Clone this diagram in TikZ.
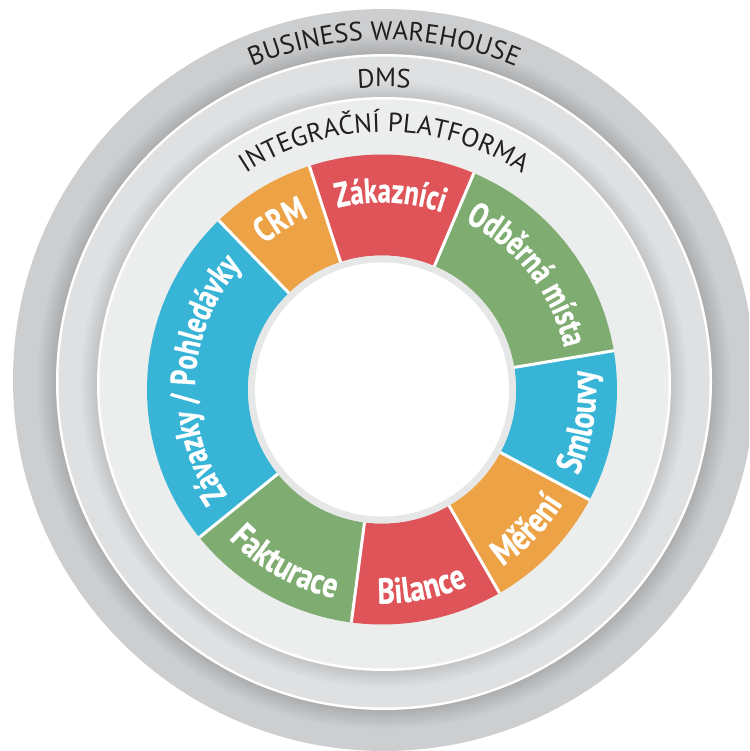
\documentclass[tikz,border=0pt]{standalone}
\usepackage{fontspec}
\setmainfont{PT Sans}
\newfontfamily\condfont[FakeStretch=0.76, BoldFeatures={FakeBold=0.6}]{PT Sans}
\newfontfamily\condfontwide[FakeStretch=0.82, BoldFeatures={FakeBold=0.6}]{PT Sans}
\newcommand\segfont{\condfont\bfseries\fontsize{35}{40}\selectfont}
\newcommand\segfontlow{\condfontwide\bfseries\fontsize{36}{41}\selectfont}
\newcommand\ringfont{\fontsize{26.5}{31}\selectfont}
\usetikzlibrary{decorations.text}

\definecolor{bwgray}{HTML}{CDCED0}
\definecolor{dmsgray}{HTML}{DFE0E1}
\definecolor{intgray}{HTML}{ECEDED}
\definecolor{gapgray}{HTML}{E6E7E7}
\definecolor{segred}{HTML}{DE5459}
\definecolor{segorange}{HTML}{ECA245}
\definecolor{seggreen}{HTML}{7FAD71}
\definecolor{segblue}{HTML}{37B4D6}
\definecolor{ink}{HTML}{231F20}

\begin{document}
\begin{tikzpicture}[x=1pt, y=1pt,
  seglabel/.style={decorate, decoration={text along path, text align=center,
      text color=white, text={|\segfont|#1}}},
  seglabellow/.style={decorate, decoration={text along path, text align=center,
      text color=white, text={|\segfontlow|#1}}},
  ringlabel/.style={decorate, decoration={text along path, text align=center,
      text color=ink, text={|\ringfont|#1}}},
  softshadow/.style={black, opacity=0.009},
  divider/.style={white, line width=3}]
\useasboundingbox (0,0) rectangle (749,-751);
\clip (0,0) rectangle (749,-751);

% centres of the stacked discs
\coordinate (bw) at (384,-380);
\coordinate (dms) at (384,-382);
\coordinate (ip) at (384,-384);
\coordinate (core) at (382,-389.5);

% Business Warehouse ring
\fill[bwgray] (bw) circle (371);
% DMS ring with its soft shadow
\foreach \k in {1,...,16} \fill[softshadow] (dms) circle ({328+1.2*\k});
\fill[white] (dms) circle (328);
\fill[dmsgray] (dms) circle (325.5);
% integration platform disc with its soft shadow
\foreach \k in {1,...,14} \fill[softshadow] (ip) circle ({287+1.2*\k});
\fill[white] (ip) circle (287);
\fill[intgray] (ip) circle (284.5);

% coloured module segments
\foreach \a/\b/\c in {67/108/segred, 108/134/segorange, 134/219/segblue,
    219/262.5/seggreen, 262.5/300/segred, 300/332/segorange,
    332/369.5/segblue, 9.5/67/seggreen}
  \fill[\c] ([shift={(\a:235)}]core) arc[start angle=\a, end angle=\b, radius=235]
    -- ([shift={(\b:134)}]core) arc[start angle=\b, end angle=\a, radius=134] -- cycle;

% hub
\fill[gapgray] (core) circle (134);
\fill[white] (core) circle (127);

% white separators between segments
\foreach \a in {9.5, 67, 108, 134, 219, 262.5, 300, 332}
  \draw[divider] ([shift={(\a:134)}]core) -- ([shift={(\a:235)}]core);

% ring captions
\path[ringlabel=BUSINESS WAREHOUSE] ([shift={(150:340)}]bw)
  arc[start angle=150, end angle=30, radius=340];
\path[ringlabel=DMS] ([shift={(130:295)}]dms)
  arc[start angle=130, end angle=50, radius=295];
\path[ringlabel=INTEGRAČNÍ PLATFORMA] ([shift={(135:252)}]ip)
  arc[start angle=135, end angle=45, radius=252];

% segment captions, upper half read clockwise
\path[seglabel=Zákazníci] ([shift={(157.5:187)}]core)
  arc[start angle=157.5, end angle=17.5, radius=187];
\path[seglabel=CRM] ([shift={(191:187)}]core)
  arc[start angle=191, end angle=51, radius=187];
\path[seglabel=Závazky / Pohledávky] ([shift={(246.5:187)}]core)
  arc[start angle=246.5, end angle=106.5, radius=187];
\path[seglabel=Odběrná místa] ([shift={(108.25:187)}]core)
  arc[start angle=108.25, end angle=-31.75, radius=187];

% segment captions, lower half read counter-clockwise
\path[seglabellow=Fakturace] ([shift={(170.75:214)}]core)
  arc[start angle=170.75, end angle=310.75, radius=214];
\path[seglabellow=Bilance] ([shift={(211.25:214)}]core)
  arc[start angle=211.25, end angle=351.25, radius=214];
\path[seglabellow=Měření] ([shift={(246:214)}]core)
  arc[start angle=246, end angle=386, radius=214];
\path[seglabellow=Smlouvy] ([shift={(280.75:214)}]core)
  arc[start angle=280.75, end angle=420.75, radius=214];
\end{tikzpicture}
\end{document}
